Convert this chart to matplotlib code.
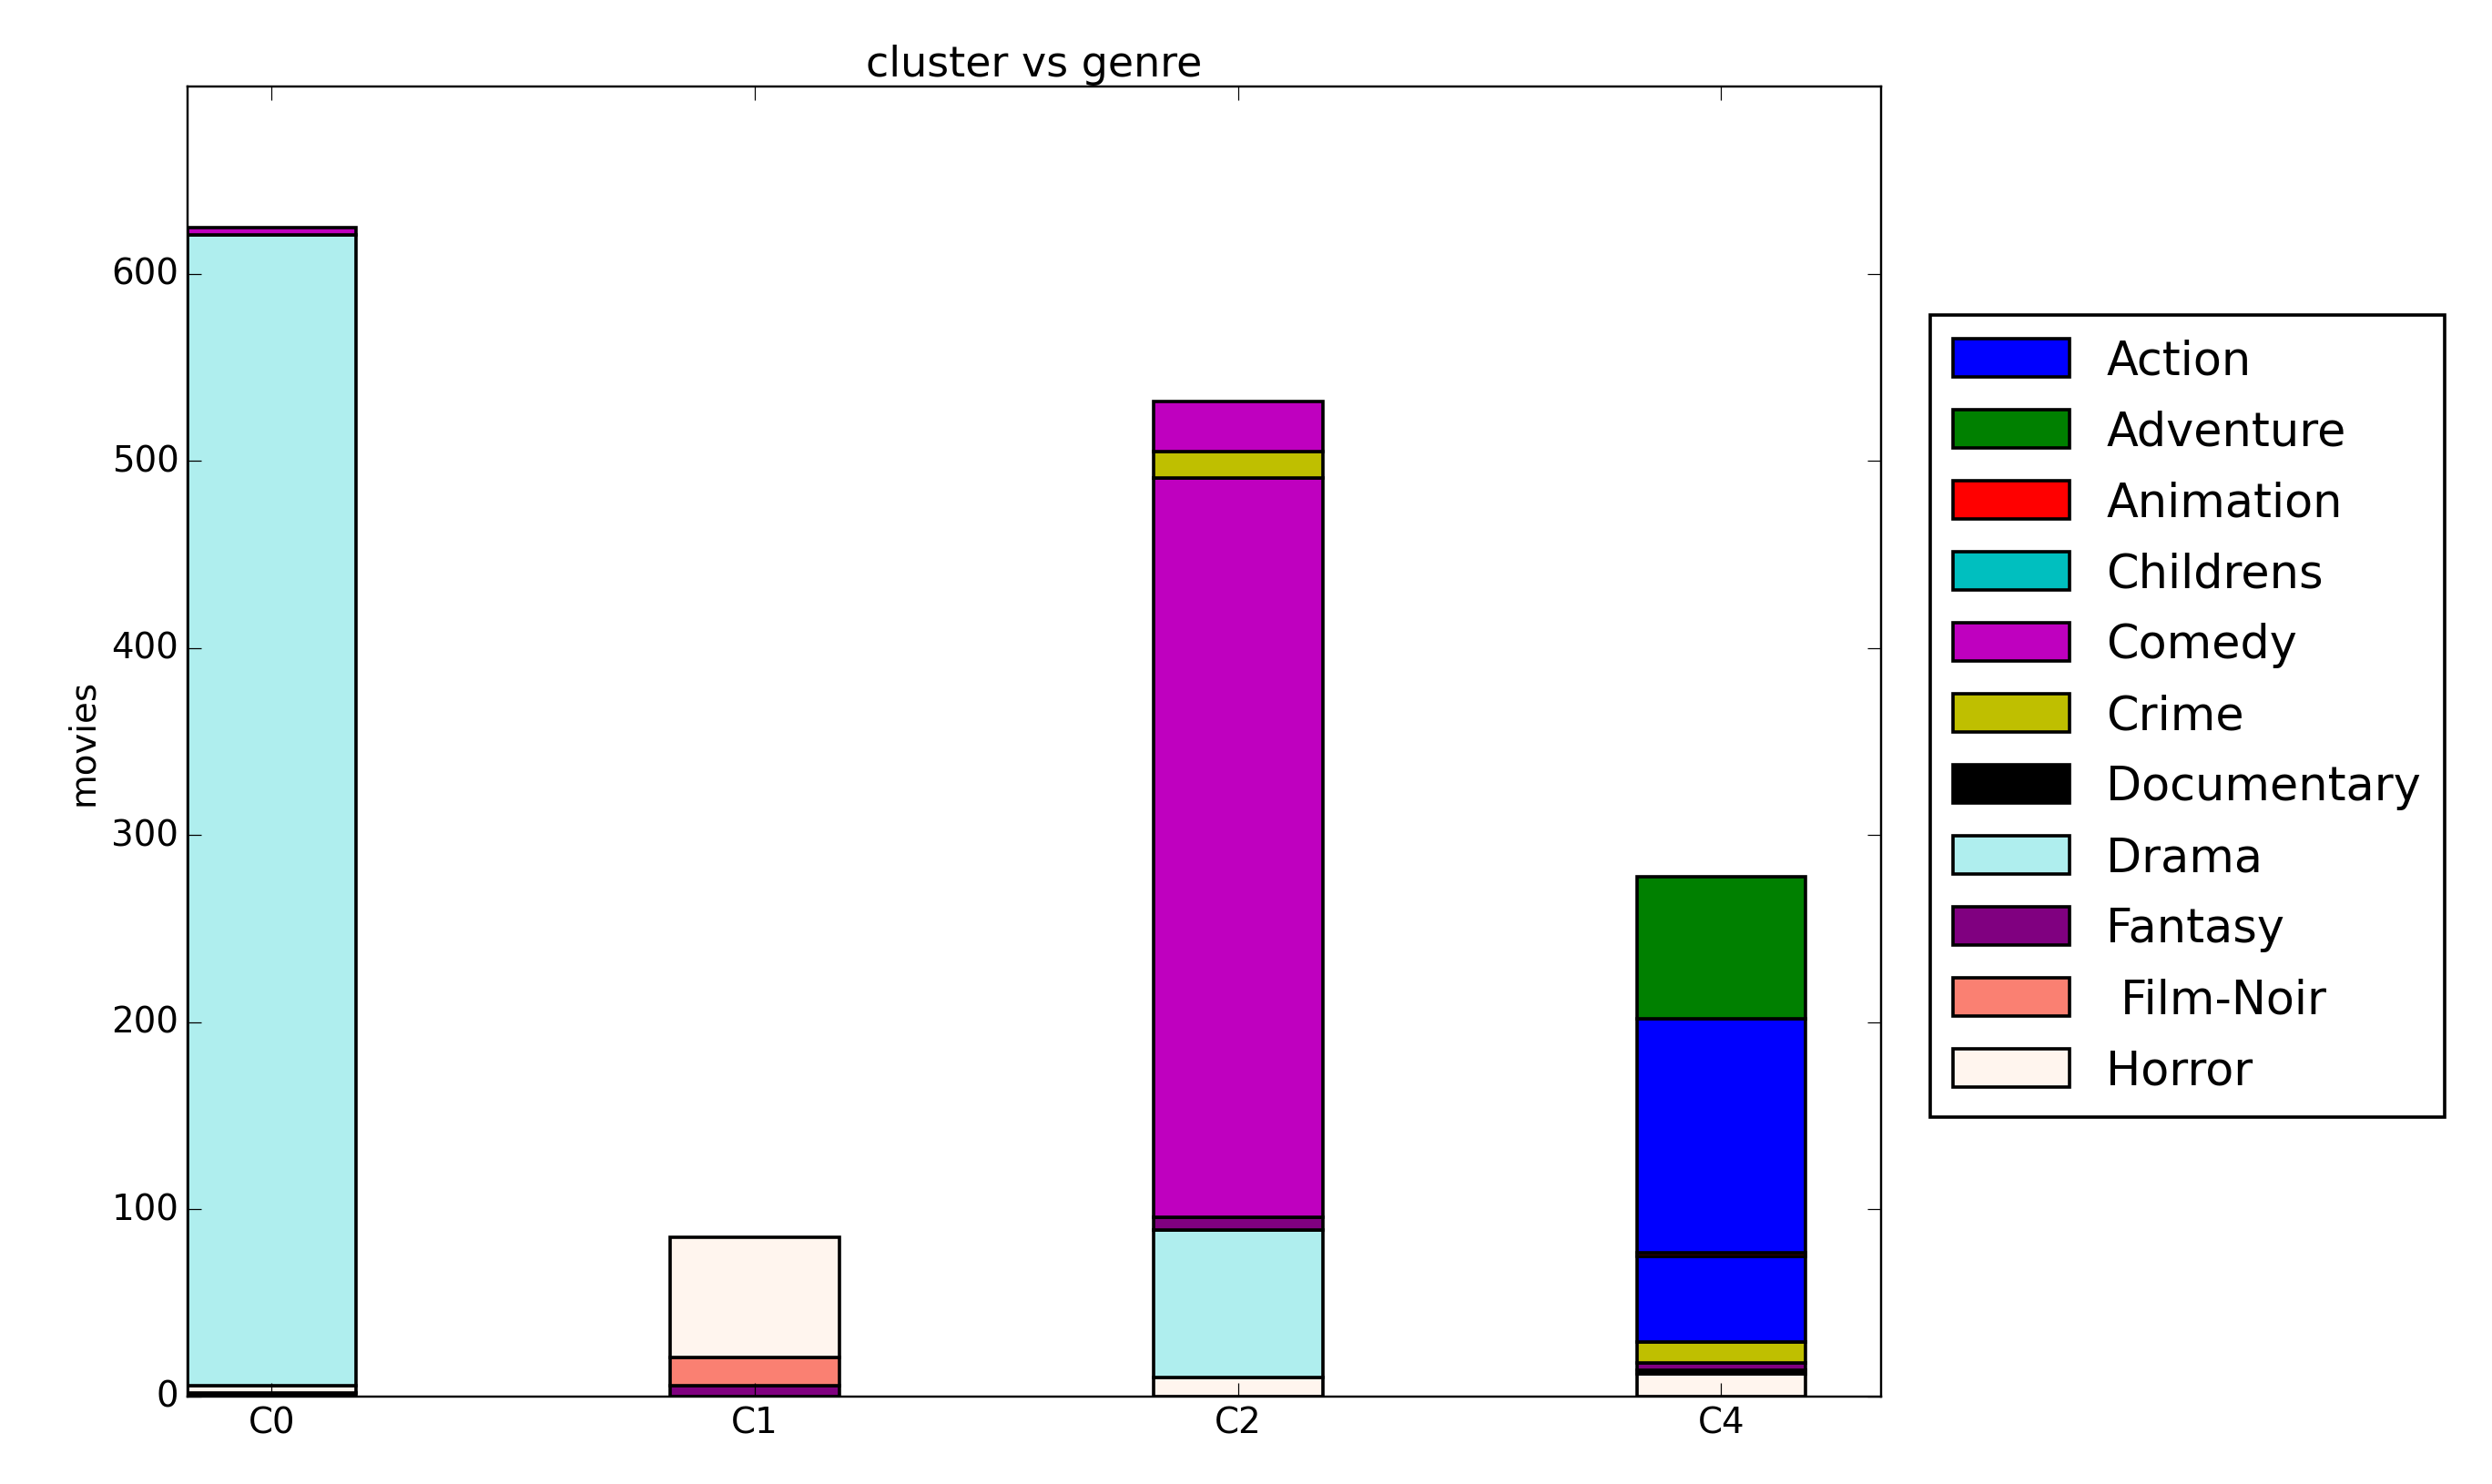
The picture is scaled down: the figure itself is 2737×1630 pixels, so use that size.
import matplotlib
matplotlib.use("Agg")
import matplotlib.pyplot as plt
from matplotlib.patches import Patch

plt.style.use("classic")

clusters = ["C0", "C1", "C2", "C4"]
genres = ["Action", "Adventure", "Animation", "Childrens", "Comedy", "Crime",
          "Documentary", "Drama", "Fantasy", "Film-Noir", "Horror"]
legend_labels = ["Action", "Adventure", "Animation", "Childrens", "Comedy", "Crime",
                 "Documentary", "Drama", "Fantasy", " Film-Noir", "Horror"]
colors = ["blue", "green", "red", "c", "m", "y", "black",
          "paleturquoise", "purple", "salmon", "seashell"]

# stacked segments per cluster, bottom to top
c0_genres = ["Documentary", "Horror", "Drama", "Comedy"]
c0_counts = [2, 4, 615, 4]
c1_genres = ["Fantasy", "Film-Noir", "Horror"]
c1_counts = [6, 15, 64]
c2_genres = ["Horror", "Drama", "Fantasy", "Comedy", "Crime", "Comedy"]
c2_counts = [10, 79, 7, 395, 14, 27]
c4_genres = ["Horror", "Documentary", "Fantasy", "Crime", "Action", "Animation", "Action", "Adventure"]
c4_counts = [12, 2, 4, 11, 46, 2, 125, 76]

stacks = [(c0_genres, c0_counts), (c1_genres, c1_counts),
          (c2_genres, c2_counts), (c4_genres, c4_counts)]
color_of = dict(zip(genres, colors))

fig = plt.figure(figsize=(15.68, 9.34), dpi=174.6, facecolor="white")
ax = fig.add_axes([0.0753, 0.0589, 0.6792, 0.8821])

for i, (gs, cs) in enumerate(stacks):
    bottom = 0
    for g, c in zip(gs, cs):
        ax.bar(i, c, 0.35, bottom=bottom, color=color_of[g],
               edgecolor="black", linewidth=1.5, align="center")
        bottom += c

ax.set_xticks(range(len(clusters)))
ax.set_xticklabels(clusters, fontsize=16)
ax.set_xlim(-0.174, 3.33)
ax.set_ylim(0, 700)
ax.set_yticks(range(0, 700, 100))
ax.tick_params(labelsize=16, length=6)
ax.set_ylabel("movies", fontsize=16)
ax.set_title("cluster vs genre", fontsize=19)

handles = [Patch(facecolor=c, edgecolor="black", linewidth=1.5) for c in colors]
leg = fig.legend(handles, legend_labels, loc="upper left",
                 bbox_to_anchor=(0.765, 0.803), fontsize=21,
                 handlelength=2.5, handleheight=0.9, labelspacing=0.55,
                 borderpad=0.5, fancybox=False)
leg.get_frame().set_linewidth(1.5)

fig.savefig("out.png", dpi=174.6, facecolor="white")
